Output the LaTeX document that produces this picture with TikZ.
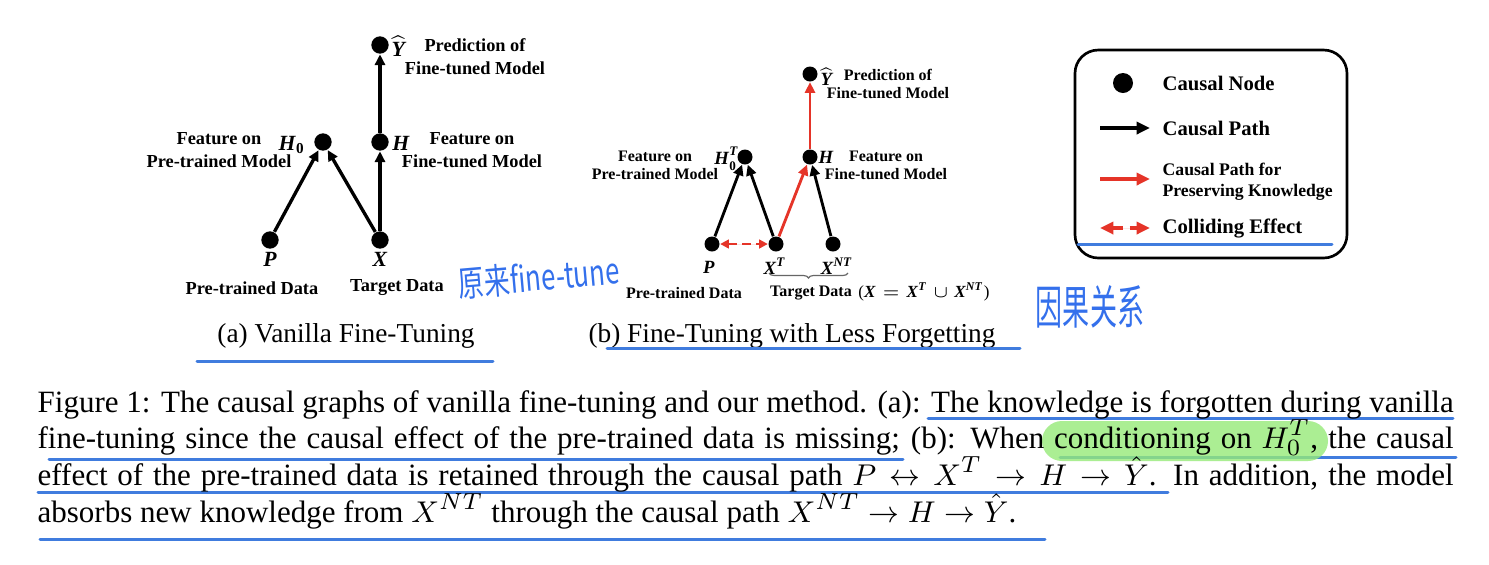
\documentclass[tikz,border=0pt]{standalone}
\usepackage{amsmath}
\usepackage{fontspec}
\setmainfont{Liberation Serif}
\newfontfamily\cjk{Noto Sans CJK SC}
\usetikzlibrary{arrows.meta,decorations.pathreplacing}
\definecolor{pathred}{RGB}{229,52,40}
\definecolor{markblue}{RGB}{64,124,222}
\definecolor{inkblue}{RGB}{52,112,236}
\definecolor{hlgreen}{RGB}{150,234,120}
\newcommand\bvar[1]{\textbf{\textit{#1}}}

\begin{document}
\begin{tikzpicture}[x=0.3pt,y=-0.3pt,
      every node/.style={inner sep=0pt},
      cnode/.style={circle, fill=black, inner sep=0pt, minimum size=#1},
      cnode/.default=5pt,
      cpath/.style={line width=1pt, -{Triangle[length=3.2pt,width=3pt]}},
      kpath/.style={cpath, draw=pathred, fill=pathred},
      collide/.style={draw=pathred, fill=pathred, line width=0.8pt, dash pattern=on 2.6pt off 1.6pt,
                      {Triangle[length=2.6pt,width=2.6pt]}-{Triangle[length=2.6pt,width=2.6pt]}},
      alabel/.style={font=\bfseries\fontsize{5.5}{6.9}\selectfont, align=center},
      blabel/.style={font=\bfseries\fontsize{4.8}{5.4}\selectfont, align=center},
      avar/.style={font=\fontsize{6.5}{7}\selectfont},
      bvarlbl/.style={font=\fontsize{5.6}{6}\selectfont},
      subcap/.style={anchor=base, font=\fontsize{8.2}{9}\selectfont},
      lgtext/.style={anchor=west, font=\bfseries\fontsize{6.2}{7}\selectfont, align=left},
      lgsmall/.style={anchor=west, font=\bfseries\fontsize{5.3}{6.4}\selectfont, align=left},
      lgpath/.style={line width=1.2pt, -{Triangle[length=4pt,width=3.6pt]}},
      capline/.style={anchor=base west, font=\fontsize{9.3}{11}\selectfont},
      uline/.style={draw=markblue, line width=0.9pt, line cap=round},
      hand/.style={text=inkblue, font=\cjk\fontsize{8.6}{9}\selectfont},
    ]
    \path[use as bounding box, fill=white] (0,0) rectangle (1489,565);

    % --- (a) vanilla fine-tuning ---
    \node[cnode=5.2pt] (aP) at (270,240) {};
    \node[cnode=5.2pt] (aX) at (380,240) {};
    \node[cnode=5.2pt] (aH0) at (323,142) {};
    \node[cnode=5.2pt] (aH) at (380,142) {};
    \node[cnode=5.2pt] (aY) at (380,45) {};
    \draw[cpath] (aP) -- (aH0);
    \draw[cpath] (aX) -- (aH0);
    \draw[cpath] (aX) -- (aH);
    \draw[cpath] (aH) -- (aY);

    \node[avar] (aYl) at (399,46) {$\widehat{\text{\bvar{Y}}}$};
    \node[avar] (aH0l) at (292,145) {$\text{\bvar{H}}_{\text{\bfseries 0}}$};
    \node[avar] (aHl) at (401,143) {\bvar{H}};
    \node[avar] (aPl) at (270,259) {\bvar{P}};
    \node[avar] (aXl) at (380,259) {\bvar{X}};
    \node[alabel] (aYt) at (475,57) {Prediction of\\Fine-tuned Model};
    \node[alabel] (aH0t) at (219,150.5) {Feature on\\Pre-trained Model};
    \node[alabel] (aHt) at (472,150.5) {Feature on\\Fine-tuned Model};
    \node[alabel] (aPt) at (252,288) {Pre-trained Data};
    \node[alabel] (aXt) at (397,288) {Target Data};
    \node[subcap] (acap) at (346,342) {(a) Vanilla Fine-Tuning};

    % --- (b) fine-tuning with less forgetting ---
    \node[cnode=4.5pt] (bP) at (712,244) {};
    \node[cnode=4.5pt] (bXT) at (776,244) {};
    \node[cnode=4.5pt] (bXNT) at (833,244) {};
    \node[cnode=4.5pt] (bH0) at (745,157) {};
    \node[cnode=4.5pt] (bH) at (810,157) {};
    \node[cnode=4.5pt] (bY) at (810,74) {};
    \draw[cpath, line width=0.85pt] (bP) -- (bH0);
    \draw[cpath, line width=0.85pt] (bXT) -- (bH0);
    \draw[cpath, line width=0.85pt] (bXNT) -- (bH);
    \draw[kpath, line width=0.85pt] (bXT) -- (bH);
    \draw[kpath, line width=0.85pt] (bH) -- (bY);
    \draw[collide] (bP) -- (bXT);

    \node[bvarlbl] (bYl) at (827,77) {$\widehat{\text{\bvar{Y}}}$};
    \node[bvarlbl] (bH0l) at (727,159) {$\text{\bvar{H}}_{\text{\bfseries 0}}^{\text{\bvar{T}}}$};
    \node[bvarlbl] (bHl) at (826,157) {\bvar{H}};
    \node[bvarlbl] (bPl) at (709,267) {\bvar{P}};
    \node[bvarlbl] (bXTl) at (775,266) {$\text{\bvar{X}}^{\text{\bvar{T}}}$};
    \node[bvarlbl] (bXNTl) at (837,266) {$\text{\bvar{X}}^{\text{\bvar{NT}}}$};
    \draw[decorate, decoration={brace, mirror, amplitude=1.5pt}, black!60, line width=0.35pt]
      (769,273) -- (848,273);
    \node[blabel] (bYt) at (888,84) {Prediction of\\Fine-tuned Model};
    \node[blabel] (bH0t) at (655,165) {Feature on\\Pre-trained Model};
    \node[blabel] (bHt) at (886,165) {Feature on\\Fine-tuned Model};
    \node[blabel] (bPt) at (684,293) {Pre-trained Data};
    \node[blabel] (bXt) at (811,293) {Target Data};
    \node[font=\fontsize{5.1}{6}\selectfont] (bXdef) at (924,292)
      {($\text{\bvar{X}} = \text{\bvar{X}}^{\text{\bvar{T}}} \cup \text{\bvar{X}}^{\text{\bvar{NT}}}$)};
    \node[subcap] (bcap) at (792,342) {(b) Fine-Tuning with Less Forgetting};

    % --- legend ---
    \node[draw, line width=0.8pt, rounded corners=7pt, minimum width=81.6pt, minimum height=62.4pt]
      (legend) at (1211,154) {};
    \node[cnode=6pt] (lgnode) at (1123,83) {};
    \node[lgtext] (lgnodet) at (1162,83) {Causal Node};
    \coordinate (lgA0) at (1100,128);
    \coordinate (lgA1) at (1150,128);
    \draw[lgpath] (lgA0) -- (lgA1);
    \node[lgtext] (lgpatht) at (1162,128) {Causal Path};
    \coordinate (lgB0) at (1100,179);
    \coordinate (lgB1) at (1150,179);
    \draw[lgpath, draw=pathred, fill=pathred] (lgB0) -- (lgB1);
    \node[lgsmall] (lgkeept) at (1162,182) {Causal Path for\\Preserving Knowledge};
    \coordinate (lgC0) at (1100,228);
    \coordinate (lgC1) at (1150,228);
    \draw[draw=pathred, fill=pathred, line width=1.2pt, dash pattern=on 3.2pt off 2pt,
          {Triangle[length=4pt,width=3.6pt]}-{Triangle[length=4pt,width=3.6pt]}] (lgC0) -- (lgC1);
    \node[lgtext] (lgcollt) at (1162,228) {Colliding Effect};
    \draw[uline] (1078,244) -- (1332,244);

    % --- handwritten notes ---
    \node[hand, rotate=5, xscale=0.9, yscale=1.25] (note1) at (539,277) {原来fine-tune};
    \node[hand, font=\cjk\fontsize{14}{14}\selectfont, xscale=0.58] (note2) at (1090,307) {因果关系};

    % --- marks on the caption ---
    \draw[uline] (197,361) -- (493,361);
    \draw[uline] (607,348) -- (1020,348);
    \draw[uline] (928,418) -- (1453,418);
    \draw[uline] (49,459) -- (903,459);
    \draw[uline] (1060,457) -- (1456,457);
    \draw[uline] (38,492) -- (1168,492);
    \draw[uline] (40,539) -- (1045,539);
    \fill[hlgreen, opacity=0.8, rounded corners=6pt] (1042,421) rectangle (1328,461);

    % --- caption ---
    \node[capline] (cap1) at (37,412) {\makebox[424.8pt][s]{Figure 1: The causal graphs of vanilla fine-tuning and our method. (a): The knowledge is forgotten during vanilla}};
    \node[capline] (cap2) at (37,448.5) {\makebox[424.8pt][s]{fine-tuning since the causal effect of the pre-trained data is missing; (b): When conditioning on $H_0^T$, the causal}};
    \node[capline] (cap3) at (37,485) {\makebox[424.8pt][s]{effect of the pre-trained data is retained through the causal path $P \leftrightarrow X^T \rightarrow H \rightarrow \hat{Y}$. In addition, the model}};
    \node[capline] (cap4) at (37,522) {absorbs new knowledge from $X^{NT}$ through the causal path $X^{NT} \rightarrow H \rightarrow \hat{Y}$.};
  \end{tikzpicture}
\end{document}
